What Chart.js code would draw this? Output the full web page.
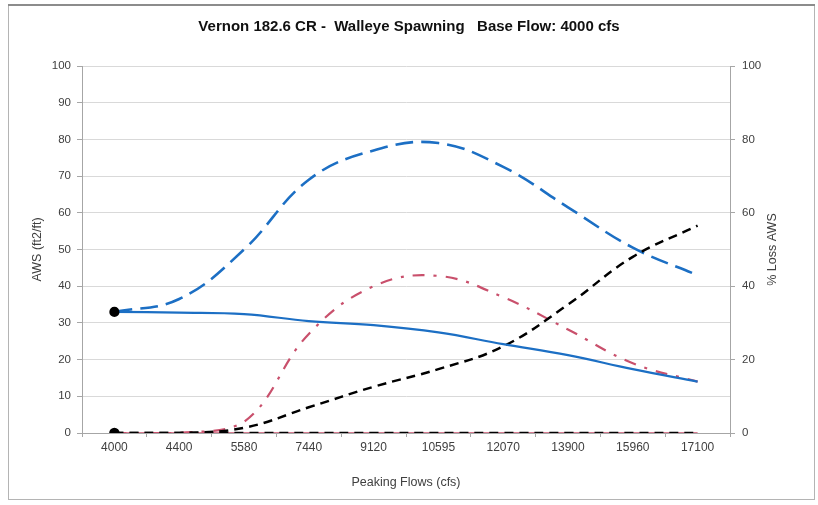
<!DOCTYPE html>
<html>
<head>
<meta charset="utf-8">
<script src="https://cdn.jsdelivr.net/npm/chart.js@4"></script>
<style>
  html, body { margin: 0; padding: 0; background: #fff; }
  #wrap { width: 818px; height: 505px; }
</style>
</head>
<body>
<div id="wrap"><canvas id="grafico" width="818" height="505"></canvas></div>
<script>
const flujos = ['4000', '4400', '5580', '7440', '9120', '10595', '12070', '13900', '15960', '17100'];
const awsPico = [33, 32.8, 32.4, 30.5, 29.4, 27.4, 24.2, 21.2, 17.4, 14];
const awsBase = [33, 36.5, 50, 69, 77, 79, 72.5, 61.5, 50.5, 43];
const awsRojo = [0, 0, 3, 27, 40, 42.8, 37, 28.2, 19, 14];
const perdidaAws = [0, 0, 1.4, 7, 12.6, 17.4, 23.6, 35, 48, 56.5];
const perdidaCero = [0, 0, 0, 0, 0, 0, 0, 0, 0, 0];
const rojoCero = [0, 0, 0, 0, 0, 0, 0, 0, 0, 0];
const ticksIzq = [0, 10, 20, 30, 40, 50, 60, 70, 80, 90, 100];
const ticksDer = [0, 20, 40, 60, 80, 100];

const azul = '#1c6fc4';
const rojo = '#c9506c';
const textoGris = '#404040';
const lineaGris = '#a6a6a6';
const fuente = '"Liberation Sans", Arial, sans-serif';

const soloPrimero = () => flujos.map((f, i) => i === 0 ? 4 : 0);

// marco y titulo del eje derecho
const extras = {
  id: 'extras',
  beforeDraw(chart) {
    const ctx = chart.ctx;
    ctx.save();
    ctx.fillStyle = '#fff';
    ctx.fillRect(0, 0, chart.width, chart.height);
    ctx.restore();
  },
  afterDraw(chart) {
    const ctx = chart.ctx;
    const area = chart.chartArea;
    ctx.save();
    ctx.strokeStyle = '#b4b4b4';
    ctx.lineWidth = 1;
    ctx.strokeRect(8.5, 5.5, 806, 494);
    ctx.strokeStyle = '#8c8c8c';
    ctx.lineWidth = 2;
    ctx.beginPath();
    ctx.moveTo(8, 5);
    ctx.lineTo(815, 5);
    ctx.stroke();

    ctx.fillStyle = textoGris;
    ctx.font = '12.5px ' + fuente;
    ctx.textAlign = 'center';
    ctx.textBaseline = 'middle';
    ctx.translate(773, (area.top + area.bottom) / 2);
    ctx.rotate(-Math.PI / 2);
    ctx.fillText('% Loss AWS', 0, 0);
    ctx.restore();
  }
};

window.addEventListener('load', () => {
  const ctx = document.getElementById('grafico').getContext('2d');

  new Chart(ctx, {
    type: 'line',
    data: {
      labels: flujos,
      datasets: [
        {
          label: 'AWS Peaking',
          data: awsPico,
          yAxisID: 'y',
          borderColor: azul,
          borderWidth: 2.2,
          pointRadius: soloPrimero(),
          pointBackgroundColor: '#000',
          pointBorderColor: '#000',
          tension: 0.4
        },
        {
          label: 'Loss zero',
          data: perdidaCero,
          yAxisID: 'y1',
          borderColor: '#000',
          borderWidth: 2.5,
          borderDash: [9, 6],
          pointRadius: soloPrimero(),
          pointBackgroundColor: '#000',
          pointBorderColor: '#000',
          tension: 0.4
        },
        {
          label: 'Red zero',
          data: rojoCero,
          yAxisID: 'y',
          borderColor: rojo,
          borderWidth: 1.5,
          pointRadius: 0,
          tension: 0.4
        },
        {
          label: '% Loss AWS',
          data: perdidaAws,
          yAxisID: 'y1',
          borderColor: '#000',
          borderWidth: 2.5,
          borderDash: [9, 6],
          pointRadius: 0,
          tension: 0.4
        },
        {
          label: 'AWS red',
          data: awsRojo,
          yAxisID: 'y',
          borderColor: rojo,
          borderWidth: 2.2,
          borderDash: [12, 9, 3, 9],
          pointRadius: 0,
          tension: 0.4
        },
        {
          label: 'AWS Base',
          data: awsBase,
          yAxisID: 'y',
          borderColor: azul,
          borderWidth: 2.6,
          borderDash: [18, 8],
          pointRadius: 0,
          tension: 0.4
        }
      ]
    },
    options: {
      responsive: false,
      animation: false,
      layout: { padding: 0 },
      plugins: {
        legend: { display: false },
        tooltip: { enabled: false },
        title: {
          display: true,
          text: 'Vernon 182.6 CR -  Walleye Spawning   Base Flow: 4000 cfs',
          color: '#111',
          font: { family: fuente, size: 15, weight: 'bold' },
          padding: { top: 18, bottom: 30 }
        }
      },
      scales: {
        x: {
          offset: true,
          afterFit: s => { s.height = 72; },
          grid: { drawOnChartArea: false, offset: true, tickLength: 4, color: lineaGris },
          border: { color: lineaGris },
          ticks: {
            color: textoGris,
            padding: 3,
            maxRotation: 0,
            autoSkip: false,
            font: { family: fuente, size: 12 }
          },
          title: {
            display: true,
            text: 'Peaking Flows (cfs)',
            color: textoGris,
            font: { family: fuente, size: 12.5 },
            padding: { top: 0, bottom: 15 }
          }
        },
        y: {
          position: 'left',
          min: 0,
          max: 100,
          afterFit: s => { s.width = 82; },
          afterBuildTicks: s => { s.ticks = ticksIzq.map(v => ({ value: v })); },
          grid: { color: '#d9d9d9', tickLength: 5, tickColor: lineaGris },
          border: { color: lineaGris },
          ticks: {
            color: textoGris,
            padding: 6,
            font: { family: fuente, size: 11.5 }
          },
          title: {
            display: true,
            text: 'AWS (ft2/ft)',
            color: textoGris,
            font: { family: fuente, size: 12.5 },
            padding: { top: 30, bottom: 0 }
          }
        },
        y1: {
          position: 'right',
          min: 0,
          max: 100,
          afterFit: s => { s.width = 88; },
          afterBuildTicks: s => { s.ticks = ticksDer.map(v => ({ value: v })); },
          grid: { drawOnChartArea: false, tickLength: 5, color: lineaGris },
          border: { color: lineaGris },
          ticks: {
            color: textoGris,
            padding: 7,
            font: { family: fuente, size: 11.5 }
          }
        }
      }
    },
    plugins: [extras]
  });
});
</script>
</body>
</html>
